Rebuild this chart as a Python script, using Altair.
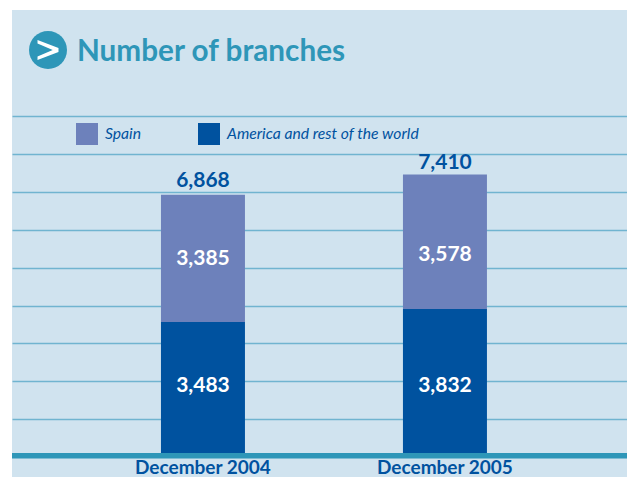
import altair as alt
import pandas as pd

periods = ["December 2004", "December 2005"]
spain = [3385, 3578]
america = [3483, 3832]
totals = [6868, 7410]
total_label_at = [6974, 7437]
spain_label_at = [5160, 5268]
america_label_at = [1782, 1782]
grid_values = [905, 1910, 2915, 3920, 4925, 5930, 6935, 7940, 8950]
series = ["Spain", "America and rest of the world"]
colors = ["#6d81bb", "#00529f"]
FONT = "Lato"
TEAL = "#2e96b8"
BLUE = "#00529f"

rows = []
for i, p in enumerate(periods):
    rows.append({"period": p, "series": series[1], "value": america[i], "order": 0, "at": america_label_at[i]})
    rows.append({"period": p, "series": series[0], "value": spain[i], "order": 1, "at": spain_label_at[i]})
df = pd.DataFrame(rows)
tot = pd.DataFrame({"period": periods, "total": totals, "at": total_label_at})

xscale = alt.Scale(type="band", domain=periods, paddingInner=0, paddingOuter=0.2707, align=0.534)
x = alt.X("period:N", title=None, sort=periods, scale=xscale,
          axis=alt.Axis(ticks=False, domain=False, labelAngle=0, labelPadding=-10,
                        labelFont=FONT, labelFontSize=19, labelFontWeight=700,
                        labelColor=BLUE, labelBaseline="middle", grid=False))
yscale = alt.Scale(domain=[-638, 11782], nice=False, zero=False)

bars = alt.Chart(df).mark_bar(size=84, stroke=None).encode(
    x=x,
    y=alt.Y("value:Q", stack="zero", title=None, scale=yscale,
            axis=alt.Axis(values=grid_values, labels=False, ticks=False, domain=False,
                          grid=True, gridColor="#70b4d0", gridWidth=1.5)),
    color=alt.Color("series:N", scale=alt.Scale(domain=series, range=colors),
                    legend=alt.Legend(title=None, orient="none", legendX=64, legendY=113,
                                      direction="horizontal", columns=2, symbolType="square",
                                      symbolSize=484, symbolStrokeWidth=0, labelOffset=7,
                                      columnPadding=56, labelLimit=300, labelFont=FONT, labelFontSize=15.7,
                                      labelFontStyle="italic", labelColor=BLUE)),
    order=alt.Order("order:Q"),
)

base_rule = alt.Chart(pd.DataFrame({"v": [0]})).mark_rule(color=TEAL, strokeWidth=5.5, yOffset=2.75).encode(
    y=alt.Y("v:Q", scale=yscale))

inner = alt.Chart(df).mark_text(font=FONT, fontSize=21, fontWeight=700, color="white", baseline="middle").encode(
    x=alt.X("period:N", sort=periods, scale=xscale),
    y=alt.Y("at:Q", scale=yscale),
    text=alt.Text("value:Q", format=","),
)
total_labels = alt.Chart(tot).mark_text(font=FONT, fontSize=21, fontWeight=700, color=BLUE,
                                        baseline="bottom").encode(
    x=alt.X("period:N", sort=periods, scale=xscale),
    y=alt.Y("at:Q", scale=yscale),
    text=alt.Text("total:Q", format=","),
)

badge = alt.Chart(pd.DataFrame({"k": [0]})).mark_point(filled=True, size=1444, color=TEAL, opacity=1).encode(
    x=alt.value(36), y=alt.value(40))
chevron = alt.Chart(pd.DataFrame({"k": [0]})).mark_point(
    shape="M-1,-0.95L1,-0.18L1,0.18L-1,0.95L-1,0.62L0.45,0L-1,-0.62Z", filled=True, fill="white", stroke=None,
    size=440, opacity=1).encode(x=alt.value(36), y=alt.value(40))

chart = alt.layer(base_rule, bars, inner, total_labels, badge, chevron).resolve_scale(y="shared").properties(
    width=615, height=467,
    padding={"left": 4, "top": 2, "right": 0, "bottom": 0},
    autosize=alt.AutoSizeParams(type="none"),
    background="white",
    title=alt.TitleParams("Number of branches", anchor="start", frame="group", dx=65, offset=-58,
                          font=FONT, fontSize=29.7, fontWeight=700, color=TEAL),
).configure_view(fill="#d0e3ef", stroke=None)

chart.save("out.html", embed_options={"renderer": "svg", "actions": False})
